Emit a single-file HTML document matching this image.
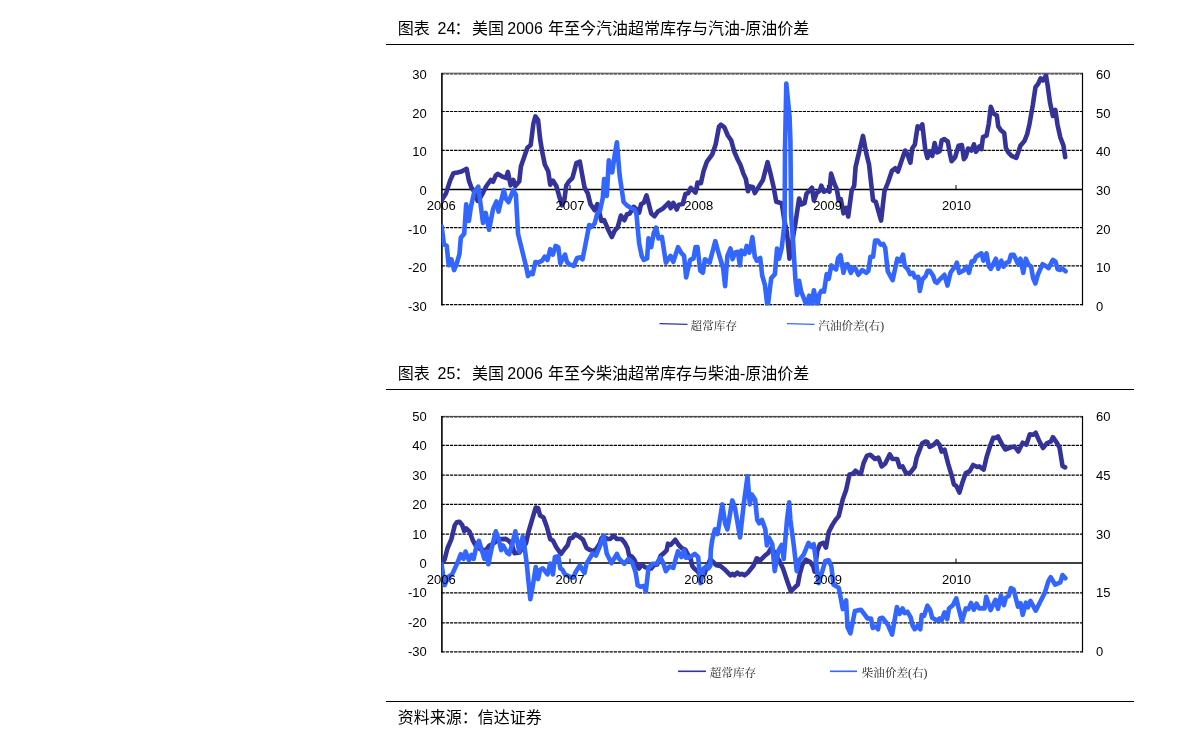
<!DOCTYPE html>
<html lang="zh"><head><meta charset="utf-8"><title>图表</title>
<style>
html,body{margin:0;padding:0;background:#fff;}
body{width:1191px;height:747px;overflow:hidden;position:relative;font-family:"Liberation Sans","Noto Sans CJK SC",sans-serif;}
svg{position:absolute;left:0;top:0;}
.t{font-family:"Liberation Sans","Noto Sans CJK SC",sans-serif;font-size:16px;fill:#000;}
.tl{font-size:16px;}
.a{font-family:"Liberation Sans",sans-serif;font-size:13px;fill:#000;}
.lg{font-family:"Liberation Serif","Noto Serif CJK SC",serif;font-size:11.6px;fill:#222;}
.g{stroke:#000;stroke-width:1.2;stroke-dasharray:3.3 0.9;fill:none;}
.ax{stroke:#000;stroke-width:1.5;fill:none;}
.d{stroke:#333399;stroke-width:4.6;fill:none;stroke-linejoin:round;stroke-linecap:round;}
.b{stroke:#3366ff;stroke-width:4.6;fill:none;stroke-linejoin:round;stroke-linecap:round;}
</style></head><body>
<svg width="1191" height="747" viewBox="0 0 1191 747">

<text class="t" y="34.3"><tspan x="397.8">图表 </tspan><tspan class="tl" x="437.6">24</tspan><tspan x="454.6">：</tspan><tspan x="471.9">美国 </tspan><tspan class="tl" x="507.3">2006 </tspan><tspan x="547.9">年至今汽油超常库存与汽油<tspan class="tl">-</tspan>原油价差</tspan></text>
<line x1="386" y1="44.5" x2="1134" y2="44.5" stroke="#000" stroke-width="1.1"/>
<text class="t" y="379.0"><tspan x="397.8">图表 </tspan><tspan class="tl" x="437.6">25</tspan><tspan x="454.6">：</tspan><tspan x="471.9">美国 </tspan><tspan class="tl" x="507.3">2006 </tspan><tspan x="547.9">年至今柴油超常库存与柴油<tspan class="tl">-</tspan>原油价差</tspan></text>
<line x1="386" y1="389.5" x2="1134" y2="389.5" stroke="#000" stroke-width="1.1"/>
<line x1="386" y1="701.5" x2="1134" y2="701.5" stroke="#000" stroke-width="1.1"/>
<text class="t" y="723.3"><tspan x="397.8">资料来源：信达证券</tspan></text>
<line x1="441.5" y1="73.2" x2="1082.5" y2="73.2" stroke="#000" stroke-width="0.7"/>
<line class="g" x1="441.5" y1="74.1" x2="1082.5" y2="74.1" stroke-opacity="0.6"/>
<text class="a" x="426.8" y="78.8" text-anchor="end">30</text>
<line class="g" x1="441.5" y1="111.5" x2="1082.5" y2="111.5"/>
<text class="a" x="426.8" y="117.5" text-anchor="end">20</text>
<line class="g" x1="441.5" y1="150.4" x2="1082.5" y2="150.4"/>
<text class="a" x="426.8" y="156.2" text-anchor="end">10</text>
<line class="ax" x1="441.5" y1="189.5" x2="1082.5" y2="189.5" stroke-width="1.3"/>
<text class="a" x="426.8" y="194.9" text-anchor="end">0</text>
<line class="g" x1="441.5" y1="227.6" x2="1082.5" y2="227.6"/>
<text class="a" x="426.8" y="233.6" text-anchor="end">-10</text>
<line class="g" x1="441.5" y1="265.8" x2="1082.5" y2="265.8"/>
<text class="a" x="426.8" y="272.3" text-anchor="end">-20</text>
<line class="g" x1="441.5" y1="304.7" x2="1082.5" y2="304.7"/>
<text class="a" x="426.8" y="311.0" text-anchor="end">-30</text>
<text class="a" x="1096" y="78.8">60</text>
<text class="a" x="1096" y="117.5">50</text>
<text class="a" x="1096" y="156.2">40</text>
<text class="a" x="1096" y="194.9">30</text>
<text class="a" x="1096" y="233.6">20</text>
<text class="a" x="1096" y="272.3">10</text>
<text class="a" x="1096" y="311.0">0</text>
<line x1="441.9" y1="72.9" x2="441.9" y2="305.4" stroke="#000" stroke-width="1.6"/>
<line x1="1082.5" y1="72.9" x2="1082.5" y2="305.4" stroke="#000" stroke-width="1.2"/>
<line x1="570.0" y1="185.0" x2="570.0" y2="189.5" stroke="#000" stroke-width="1"/>
<line x1="698.7" y1="185.0" x2="698.7" y2="189.5" stroke="#000" stroke-width="1"/>
<line x1="827.4" y1="185.0" x2="827.4" y2="189.5" stroke="#000" stroke-width="1"/>
<line x1="956.0" y1="185.0" x2="956.0" y2="189.5" stroke="#000" stroke-width="1"/>
<clipPath id="c73"><rect x="441.5" y="72.7" width="641.0" height="232.8"/></clipPath>
<g clip-path="url(#c73)"><polyline class="d" points="442.0,199.5 446.0,193.4 450.1,180.6 453.4,173.3 457.5,172.6 461.5,171.6 466.6,168.8 468.9,180.6 471.6,188.0 475.2,192.7 477.6,200.8 480.3,197.5 483.0,192.8 486.4,186.0 490.8,180.0 493.1,181.7 495.8,175.3 497.8,173.9 501.8,176.3 505.9,178.0 507.9,171.9 510.6,185.3 513.3,180.0 515.3,186.0 519.3,181.3 520.9,166.5 527.4,147.7 530.7,145.0 533.4,123.5 535.4,116.4 538.1,120.2 540.1,139.0 542.2,151.7 544.8,164.5 548.2,171.2 550.2,184.7 552.9,180.6 556.3,186.0 559.6,197.5 562.0,205.3 564.3,200.2 566.3,185.4 569.0,181.3 572.4,178.0 576.4,163.2 579.8,161.6 584.5,187.4 587.8,193.4 590.5,204.2 594.6,210.2 597.3,204.2 599.3,212.3 601.4,220.9 604.1,220.2 608.8,231.0 611.8,237.0 614.9,230.3 617.6,227.6 620.9,215.5 624.3,220.2 627.0,214.2 629.7,213.5 633.7,206.8 637.0,209.5 639.1,212.8 641.1,204.1 643.8,202.8 646.5,195.4 648.5,202.8 651.2,213.5 654.5,216.2 657.9,211.5 662.6,208.8 668.6,202.8 670.6,208.1 673.3,202.8 676.7,209.5 678.7,204.8 682.7,204.1 685.4,194.0 688.1,193.3 690.8,187.9 695.5,192.6 697.5,182.5 700.9,183.2 703.6,171.1 706.9,161.7 712.3,154.3 715.7,144.2 719.0,126.7 721.0,124.7 724.4,127.4 727.8,135.5 731.1,140.2 734.5,152.3 737.8,159.7 740.5,165.0 743.2,173.1 745.9,179.1 747.9,191.2 750.1,186.4 752.8,187.0 754.8,193.1 760.2,184.4 762.8,180.3 767.6,162.2 770.2,172.3 773.6,187.0 776.3,201.8 781.7,203.2 784.4,220.6 787.0,232.7 789.5,258.7 795.8,220.6 799.1,198.5 801.2,204.5 804.5,203.2 806.5,193.8 811.9,187.7 813.9,200.5 816.6,193.1 820.0,190.4 821.3,185.7 824.0,191.7 828.0,189.7 829.4,191.7 831.1,173.6 834.1,183.0 836.8,189.1 838.8,200.5 840.8,199.1 843.5,213.3 846.2,207.9 848.2,216.6 851.6,191.1 854.2,185.7 855.6,166.9 863.0,135.9 866.3,153.4 869.0,164.2 873.1,200.5 875.8,201.8 881.1,220.6 884.5,191.1 887.8,183.0 891.9,170.9 895.2,168.2 897.9,171.6 901.4,161.2 905.1,150.5 907.5,154.5 910.4,162.6 912.2,148.5 914.9,144.4 917.6,126.3 920.2,128.3 922.3,124.3 925.2,149.1 927.4,157.9 929.7,151.2 932.3,155.9 934.6,143.1 937.0,152.5 939.7,151.2 941.7,140.4 944.4,139.1 947.8,141.7 949.8,153.2 951.6,161.2 955.2,157.2 958.5,145.8 961.9,145.1 963.9,159.2 965.9,156.5 968.0,148.5 971.3,150.5 974.0,144.4 976.0,151.8 979.4,146.5 981.4,149.1 983.0,137.0 986.5,135.7 988.8,123.6 990.8,106.8 993.5,113.5 996.9,115.5 998.2,126.3 1000.9,130.3 1004.2,133.0 1005.9,147.8 1008.3,152.5 1011.6,155.9 1016.3,157.9 1020.4,145.8 1024.4,141.1 1027.1,134.4 1029.5,123.9 1032.8,105.2 1035.5,87.1 1038.2,83.7 1040.6,78.4 1042.9,80.4 1046.0,75.7 1047.6,85.1 1050.0,102.5 1052.9,115.9 1055.3,109.8 1057.6,125.2 1060.3,137.3 1063.4,145.3 1065.2,157.1"/>
<polyline class="b" points="441.6,226.4 444.0,244.5 446.7,245.9 448.7,265.3 451.4,259.3 454.1,270.1 456.8,263.3 459.5,253.9 460.8,237.8 464.2,233.8 466.2,204.2 468.9,221.0 470.9,206.9 474.3,192.1 478.3,186.7 483.0,223.0 485.7,212.9 489.1,229.7 493.1,208.9 496.5,201.5 498.5,211.6 503.8,190.1 505.9,198.8 508.5,202.2 513.3,190.1 515.9,194.8 518.0,233.8 523.3,255.3 526.0,266.0 528.0,276.1 530.7,272.7 532.7,274.1 535.4,262.0 538.1,262.7 542.2,260.6 544.8,256.6 547.5,260.0 550.2,249.2 552.9,254.6 555.6,245.9 558.3,247.2 560.3,263.3 565.0,254.6 567.0,262.0 569.0,264.0 573.7,266.0 577.1,258.0 580.5,257.3 582.5,259.3 585.2,245.9 589.2,225.0 591.2,227.0 594.6,223.7 597.3,213.6 599.9,210.9 602.8,198.0 604.1,179.1 606.8,195.9 608.8,160.3 612.2,172.4 614.9,153.6 616.9,142.2 619.6,175.1 623.6,202.0 627.0,205.5 630.3,207.5 634.4,209.5 636.4,213.5 639.1,243.1 641.7,255.9 643.8,259.9 647.1,258.5 648.5,238.4 651.2,247.1 653.8,233.0 656.1,227.6 658.5,238.4 661.9,237.0 665.9,262.6 670.6,255.9 673.3,261.9 678.0,247.1 681.4,253.2 684.1,255.9 686.1,277.4 690.1,259.9 693.5,258.5 695.5,247.1 697.5,247.1 700.2,270.6 702.9,272.7 704.9,259.2 709.6,262.6 715.3,241.1 719.0,254.5 723.1,268.0 725.1,286.1 727.4,255.9 730.5,248.5 732.5,259.2 735.2,252.5 737.8,251.8 739.9,265.3 741.3,250.6 744.7,254.0 746.7,245.9 749.4,252.6 752.4,237.2 754.8,256.7 756.8,260.7 760.2,258.0 762.2,275.5 764.9,284.9 767.6,307.7 771.2,278.2 774.9,274.1 777.0,248.6 779.0,258.7 781.7,247.9 784.6,223.1 785.0,150.0 786.3,83.5 789.5,115.7 790.4,140.0 791.1,215.0 793.1,241.9 795.4,279.5 797.1,295.0 799.1,280.9 801.2,291.6 806.5,305.1 809.2,295.6 811.2,305.7 813.9,290.3 817.3,307.7 819.3,294.3 821.3,290.9 824.0,291.6 826.7,274.1 828.7,278.8 831.4,265.4 836.1,269.4 838.1,258.0 840.5,255.3 843.5,272.8 845.5,264.7 847.5,264.1 850.9,272.8 853.6,267.4 855.6,268.8 858.3,274.8 862.3,270.1 866.3,272.8 868.4,270.8 870.4,256.7 873.1,256.7 875.1,240.5 877.8,240.5 880.5,244.6 883.1,243.9 885.2,247.9 887.8,271.5 892.6,280.2 897.3,258.7 900.1,261.4 903.0,254.7 904.8,266.1 907.5,268.8 910.2,274.1 912.8,272.8 914.9,277.5 918.2,276.8 919.8,290.9 922.3,279.5 925.6,276.2 927.6,270.8 929.7,270.8 933.0,275.5 935.0,281.5 937.0,282.9 940.4,278.8 944.4,274.8 947.5,285.6 950.5,272.8 953.2,268.8 955.2,266.7 956.9,262.7 959.2,272.8 963.3,270.8 966.6,266.7 969.0,272.8 971.7,261.4 974.0,261.4 976.0,256.7 981.4,253.3 983.4,260.7 986.5,253.3 988.8,266.1 990.8,268.8 995.9,258.7 998.2,268.8 1001.3,260.7 1003.6,266.7 1006.3,262.7 1009.0,262.0 1011.0,254.7 1013.7,254.7 1018.4,264.7 1020.4,258.7 1023.3,272.8 1025.8,258.7 1028.4,264.7 1031.1,266.7 1033.1,278.2 1035.4,283.5 1037.8,274.8 1042.6,264.1 1045.9,266.1 1048.6,268.1 1052.9,259.8 1055.6,261.9 1057.6,269.2 1060.3,269.9 1062.3,268.5 1065.6,271.2"/></g>
<text class="a" x="441.2" y="210.3" text-anchor="middle">2006</text>
<text class="a" x="570.0" y="210.3" text-anchor="middle">2007</text>
<text class="a" x="698.8" y="210.3" text-anchor="middle">2008</text>
<text class="a" x="827.6" y="210.3" text-anchor="middle">2009</text>
<text class="a" x="956.4" y="210.3" text-anchor="middle">2010</text>
<line x1="441.5" y1="416.4" x2="1082.5" y2="416.4" stroke="#000" stroke-width="0.7"/>
<line class="g" x1="441.5" y1="417.2" x2="1082.5" y2="417.2" stroke-opacity="0.6"/>
<text class="a" x="426.8" y="421.3" text-anchor="end">50</text>
<line class="g" x1="441.5" y1="445.4" x2="1082.5" y2="445.4"/>
<text class="a" x="426.8" y="449.9" text-anchor="end">40</text>
<line class="g" x1="441.5" y1="475.1" x2="1082.5" y2="475.1"/>
<text class="a" x="426.8" y="479.6" text-anchor="end">30</text>
<line class="g" x1="441.5" y1="504.4" x2="1082.5" y2="504.4"/>
<text class="a" x="426.8" y="508.9" text-anchor="end">20</text>
<line class="g" x1="441.5" y1="534.2" x2="1082.5" y2="534.2"/>
<text class="a" x="426.8" y="538.7" text-anchor="end">10</text>
<line class="ax" x1="441.5" y1="563.1" x2="1082.5" y2="563.1" stroke-width="1.3"/>
<text class="a" x="426.8" y="567.6" text-anchor="end">0</text>
<line class="g" x1="441.5" y1="592.9" x2="1082.5" y2="592.9"/>
<text class="a" x="426.8" y="597.4" text-anchor="end">-10</text>
<line class="g" x1="441.5" y1="622.8" x2="1082.5" y2="622.8"/>
<text class="a" x="426.8" y="627.3" text-anchor="end">-20</text>
<line class="g" x1="441.5" y1="651.8" x2="1082.5" y2="651.8"/>
<text class="a" x="426.8" y="656.3" text-anchor="end">-30</text>
<text class="a" x="1096" y="421.3">60</text>
<text class="a" x="1096" y="479.6">45</text>
<text class="a" x="1096" y="538.7">30</text>
<text class="a" x="1096" y="597.4">15</text>
<text class="a" x="1096" y="656.3">0</text>
<line x1="441.9" y1="416.0" x2="441.9" y2="652.5" stroke="#000" stroke-width="1.6"/>
<line x1="1082.5" y1="416.0" x2="1082.5" y2="652.5" stroke="#000" stroke-width="1.2"/>
<line x1="570.0" y1="558.6" x2="570.0" y2="563.1" stroke="#000" stroke-width="1"/>
<line x1="698.7" y1="558.6" x2="698.7" y2="563.1" stroke="#000" stroke-width="1"/>
<line x1="827.4" y1="558.6" x2="827.4" y2="563.1" stroke="#000" stroke-width="1"/>
<line x1="956.0" y1="558.6" x2="956.0" y2="563.1" stroke="#000" stroke-width="1"/>
<clipPath id="c416"><rect x="441.5" y="415.8" width="641.0" height="236.8"/></clipPath>
<g clip-path="url(#c416)"><polyline class="d" points="442.7,562.0 444.7,559.3 447.4,548.5 451.4,539.1 454.8,525.0 456.8,522.3 459.5,521.7 462.2,525.0 464.2,531.1 466.2,528.4 469.6,531.7 472.9,540.5 476.3,546.5 480.3,549.2 483.7,550.2 486.4,549.6 489.1,545.9 493.1,543.8 499.1,539.1 501.8,539.1 505.9,538.9 509.2,541.2 511.9,544.5 514.6,553.3 519.3,552.6 526.0,543.2 528.7,531.1 532.7,517.6 535.7,507.6 538.1,508.2 540.1,515.6 543.5,517.6 546.9,527.0 550.2,539.1 552.9,540.5 556.3,547.2 561.0,553.9 565.0,548.5 567.7,545.2 569.7,538.5 572.4,537.8 575.1,534.4 579.1,536.5 583.1,539.8 586.5,547.9 589.9,549.9 593.2,551.2 596.6,548.5 599.9,543.2 601.4,538.3 603.4,536.3 607.5,539.0 610.2,539.0 613.5,535.6 616.9,539.0 621.6,539.0 624.9,543.0 627.6,548.4 629.0,555.1 631.7,556.5 634.4,559.8 637.0,565.9 639.1,568.5 641.7,564.5 645.1,567.2 647.8,567.9 651.2,568.5 653.8,565.2 657.2,564.5 660.6,555.8 663.9,553.1 666.6,550.4 668.0,543.7 670.6,545.0 675.3,539.7 678.7,545.0 682.1,548.4 685.4,549.7 688.1,555.1 690.8,559.1 692.2,565.9 694.2,568.5 697.5,571.2 700.2,575.3 704.2,574.6 706.9,567.2 710.3,559.1 713.0,561.8 716.3,565.2 720.4,565.9 724.4,569.2 730.5,575.3 732.5,573.9 734.5,575.3 737.2,572.6 739.9,574.6 741.9,573.9 744.6,575.3 748.1,572.4 753.4,565.7 756.8,558.3 760.2,560.3 764.2,556.3 768.2,552.9 771.6,547.6 779.0,560.3 783.0,568.4 787.0,580.5 790.8,591.2 794.4,587.9 797.8,584.5 799.8,573.8 802.5,564.4 805.9,559.7 809.9,561.7 813.3,566.4 814.6,571.7 817.3,550.9 820.0,544.2 823.3,542.8 826.0,547.6 828.7,532.1 832.1,525.4 835.4,520.1 838.7,516.1 842.8,499.3 846.1,489.9 849.5,474.4 852.8,473.8 855.5,470.8 858.2,473.1 860.9,473.8 863.6,463.0 867.0,455.6 870.3,454.7 875.0,459.0 878.4,457.6 881.7,466.4 885.1,463.7 889.8,454.3 892.5,459.0 897.2,459.0 899.6,467.0 902.6,466.4 905.9,473.1 910.0,473.1 914.7,467.0 916.7,457.6 922.1,443.5 925.4,441.5 927.4,441.9 929.5,446.9 933.5,444.9 936.9,441.5 939.5,444.9 941.6,451.6 944.5,449.6 948.3,464.4 951.6,475.1 953.9,484.5 956.3,485.9 959.4,492.6 962.4,482.5 965.8,473.1 969.8,471.1 973.1,465.0 977.2,467.0 979.2,466.4 983.7,469.6 986.6,457.1 990.3,445.3 993.3,437.7 995.5,438.0 998.0,436.5 1001.4,443.1 1005.3,449.5 1010.2,447.5 1014.6,446.5 1018.3,451.5 1022.7,442.7 1026.4,444.6 1029.8,434.3 1033.3,434.7 1035.7,432.8 1038.9,440.2 1043.0,448.0 1047.0,443.1 1050.7,441.7 1052.9,437.2 1056.6,442.4 1059.5,447.5 1062.5,466.0 1065.1,467.4"/>
<polyline class="b" points="441.6,564.3 443.0,574.4 444.7,585.1 448.1,577.0 452.1,574.4 456.8,564.3 460.8,554.2 463.5,558.9 465.5,551.5 468.9,560.2 471.6,554.9 473.6,558.9 476.3,546.8 479.0,540.8 484.4,558.9 486.4,551.5 488.4,564.3 491.7,548.1 495.8,531.3 498.5,538.7 501.2,550.2 503.2,545.5 507.2,552.8 509.2,554.2 512.6,542.8 515.3,531.3 519.3,551.5 522.7,536.7 524.7,548.1 526.7,563.6 528.7,583.8 530.3,599.2 532.7,586.5 535.7,567.0 538.1,579.1 540.1,569.7 542.8,568.3 547.5,574.4 550.2,563.6 552.9,574.4 554.9,556.9 558.3,556.2 560.3,568.3 562.3,569.7 565.0,574.4 569.0,576.4 573.1,577.7 575.8,571.7 579.8,565.6 584.5,573.0 586.5,563.6 592.6,553.5 595.9,555.5 599.9,546.1 603.7,535.6 606.8,553.8 611.5,563.2 616.9,553.8 618.9,558.5 624.3,563.8 628.3,559.1 632.3,562.5 635.7,572.6 637.7,585.3 640.4,586.7 643.8,586.0 645.8,591.4 648.5,567.9 652.5,563.8 656.5,563.8 660.6,557.8 663.3,563.2 665.9,571.2 669.3,566.5 673.3,567.9 676.0,557.8 678.0,551.1 681.4,557.1 684.1,550.4 686.1,557.8 690.1,557.1 694.8,553.8 698.2,557.1 700.5,583.3 703.6,568.5 706.9,565.9 708.3,568.5 710.3,565.9 710.8,550.1 712.2,540.1 714.9,529.3 717.6,534.0 722.3,504.4 725.2,523.9 727.4,529.3 732.3,500.4 735.0,507.8 740.0,537.4 743.8,503.8 747.5,476.2 749.8,504.4 751.8,494.4 755.2,499.7 757.2,519.9 759.2,523.3 761.9,519.9 765.3,529.3 766.9,545.5 768.9,537.5 772.3,544.2 774.7,571.1 778.3,550.9 781.7,544.9 783.7,559.0 787.0,520.0 789.2,502.4 790.4,520.0 793.8,545.5 796.7,571.1 799.1,560.3 803.8,554.3 808.5,542.8 811.2,546.9 813.7,544.2 815.9,560.3 818.6,583.2 822.0,572.4 825.3,561.0 828.7,560.3 831.4,566.4 833.4,584.5 838.8,587.9 842.8,609.1 846.1,600.3 847.5,627.2 850.4,633.3 854.9,611.1 860.9,609.7 867.6,618.5 871.0,618.5 872.7,627.9 875.7,626.5 878.1,629.2 879.7,618.5 882.4,617.8 887.8,624.5 892.1,634.6 896.9,607.0 899.6,613.8 902.6,608.4 904.6,613.1 907.3,611.7 910.6,617.1 912.7,625.9 914.7,629.2 917.4,625.9 920.3,629.2 921.7,615.1 924.1,615.8 927.4,605.7 930.1,609.7 932.2,617.8 936.9,620.5 939.5,618.5 941.6,620.5 944.5,612.4 947.2,619.1 949.0,608.4 953.0,605.0 956.3,598.3 959.0,609.7 962.0,621.2 965.8,608.4 968.4,609.1 971.1,603.0 973.8,609.7 976.5,603.7 979.2,608.4 984.6,608.4 986.2,596.8 990.6,610.1 995.5,599.8 998.0,608.9 1000.9,595.4 1003.9,605.2 1005.8,597.9 1008.7,595.9 1010.9,588.0 1013.6,589.5 1018.0,606.7 1020.5,603.3 1022.7,614.8 1025.9,602.7 1027.9,607.4 1030.4,600.8 1035.7,610.7 1044.8,592.7 1048.5,580.9 1050.7,577.2 1055.1,584.6 1060.3,582.4 1062.5,575.0 1065.4,578.3"/></g>
<text class="a" x="441.2" y="584.0" text-anchor="middle">2006</text>
<text class="a" x="570.0" y="584.0" text-anchor="middle">2007</text>
<text class="a" x="698.8" y="584.0" text-anchor="middle">2008</text>
<text class="a" x="827.6" y="584.0" text-anchor="middle">2009</text>
<text class="a" x="956.4" y="584.0" text-anchor="middle">2010</text>
<line x1="659.5" y1="323.6" x2="687.5" y2="324.4" stroke="#333399" stroke-width="1.3"/>
<text class="lg" x="690.6" y="330">超常库存</text>
<line x1="787" y1="323.6" x2="814.5" y2="324.4" stroke="#3366ff" stroke-width="1.3"/>
<text class="lg" x="818.3" y="330">汽油价差(右)</text>
<line x1="678" y1="671.3" x2="706" y2="671.3" stroke="#333399" stroke-width="1.6"/>
<text class="lg" x="709.8" y="676.8">超常库存</text>
<line x1="830" y1="671.3" x2="857" y2="671.3" stroke="#3366ff" stroke-width="1.6"/>
<text class="lg" x="861.7" y="676.8">柴油价差(右)</text>
</svg></body></html>
